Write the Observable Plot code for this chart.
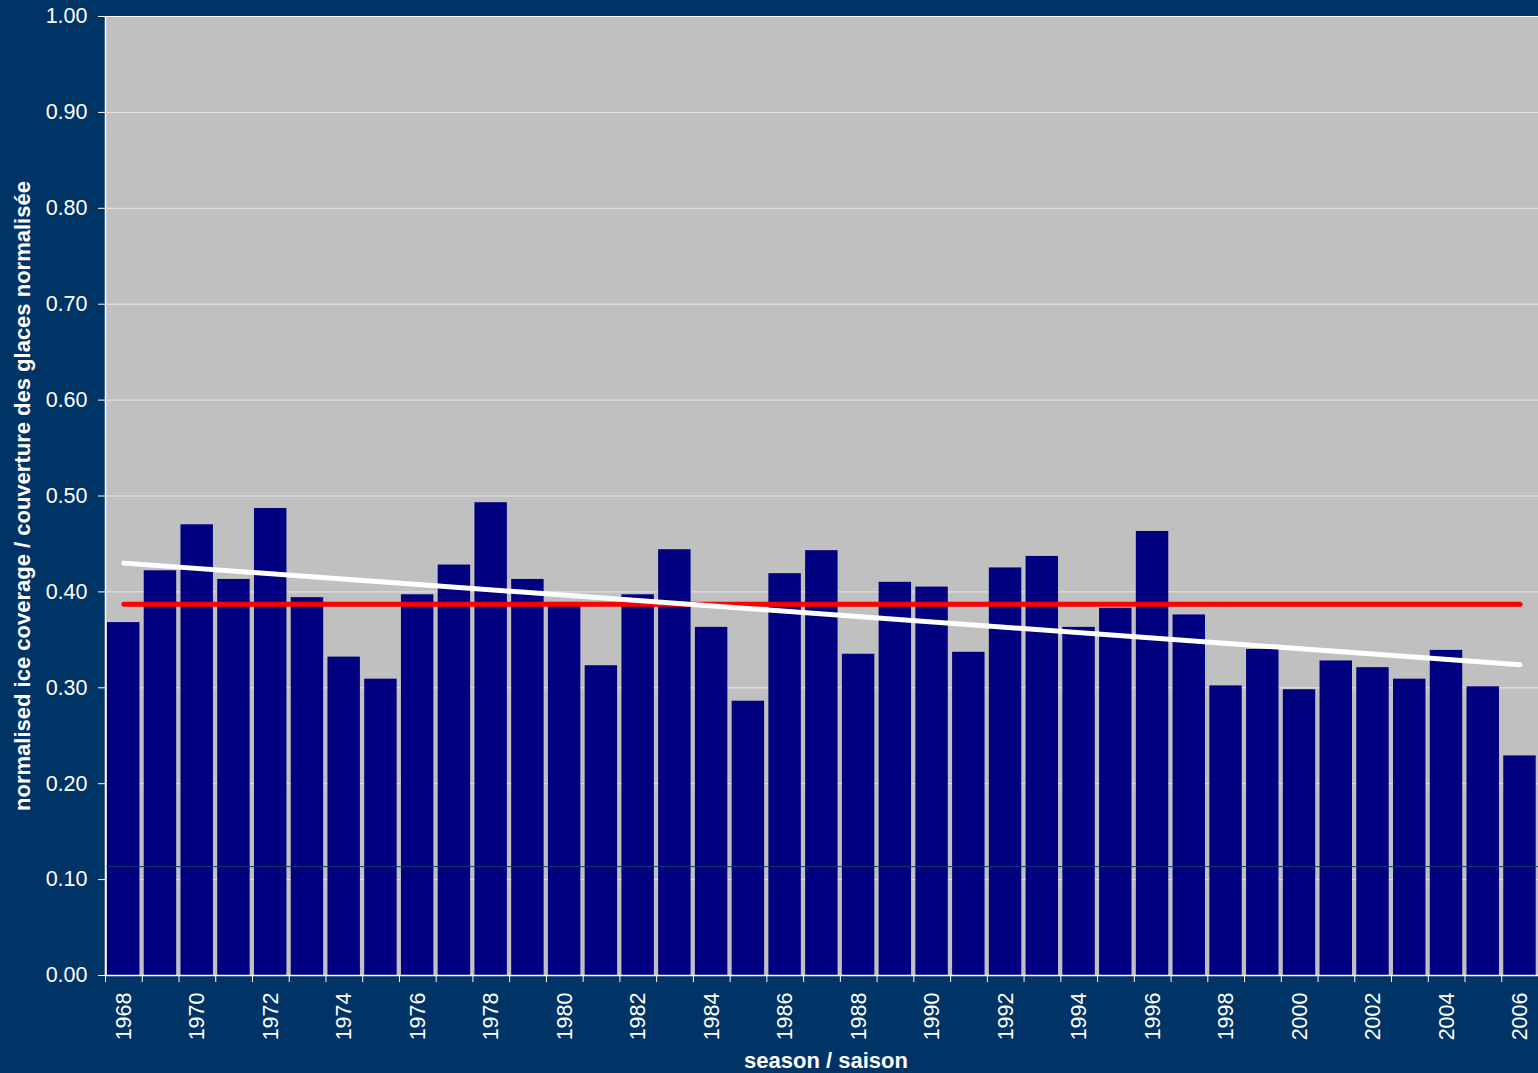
<!DOCTYPE html>
<html><head><meta charset="utf-8">
<script src="https://cdn.jsdelivr.net/npm/d3@7"></script>
<script src="https://cdn.jsdelivr.net/npm/@observablehq/plot@0.6"></script>
<style>
html,body{margin:0;padding:0;background:#003366;}
#chart svg{display:block}
</style></head><body><div id="chart"></div>
<script>
const years = [1968,1969,1970,1971,1972,1973,1974,1975,1976,1977,1978,1979,1980,1981,1982,1983,1984,1985,1986,1987,1988,1989,1990,1991,1992,1993,1994,1995,1996,1997,1998,1999,2000,2001,2002,2003,2004,2005,2006];
const values = [0.368,0.422,0.470,0.413,0.487,0.394,0.332,0.309,0.397,0.428,0.493,0.413,0.389,0.323,0.397,0.444,0.363,0.286,0.419,0.443,0.335,0.410,0.405,0.337,0.425,0.437,0.363,0.383,0.463,0.376,0.302,0.340,0.298,0.328,0.321,0.309,0.339,0.301,0.229];
const meanLevel = 0.387;
const trendStartValue = 0.430;
const trendEndValue = 0.324;
const darkLineLevel = 0.1135;
const yTicks = [0,0.1,0.2,0.3,0.4,0.5,0.6,0.7,0.8,0.9,1.0];
const xLabelYears = years.filter((y, i) => i % 2 === 0);
const yTitle = "normalised ice coverage / couverture des glaces normalisée";
const xTitle = "season / saison";

const data = years.map((year, i) => ({year, value: values[i]}));
const first = years[0], last = years[years.length - 1];
const boundaries = years.map(y => y - 0.5).concat([last + 0.5]);
const meanLine = [{x: first, y: meanLevel}, {x: last, y: meanLevel}];
const trendLine = [{x: first, y: trendStartValue}, {x: last, y: trendEndValue}];

const chart = Plot.plot({
  width: 1538, height: 1073,
  marginLeft: 105, marginRight: 0, marginTop: 16, marginBottom: 98,
  style: {background: "#003366", color: "white", fontFamily: "'Liberation Sans', Arial, sans-serif", fontSize: "21px", overflow: "visible"},
  x: {type: "linear", domain: [first - 0.5, last + 0.5]},
  y: {domain: [0, 1]},
  marks: [
    Plot.frame({fill: "#c0c0c0", stroke: null}),
    Plot.gridY(yTicks, {stroke: "#e6e6e6", strokeOpacity: 1}),
    Plot.ruleY([1], {stroke: "white"}),
    Plot.rectY(data, {x1: d => d.year - 0.5, x2: d => d.year + 0.5, y: "value", fill: "#000080", insetLeft: 2, insetRight: 2.3}),
    Plot.ruleY([darkLineLevel], {stroke: "#004466", strokeWidth: 1}),
    Plot.line(meanLine, {x: "x", y: "y", stroke: "#ff0000", strokeWidth: 5, strokeLinecap: "round"}),
    Plot.line(trendLine, {x: "x", y: "y", stroke: "white", strokeWidth: 5, strokeLinecap: "round"}),
    Plot.axisY(yTicks, {tickFormat: d => d.toFixed(2), tickSize: 7, tickPadding: 11, stroke: "white", fill: "white", fontSize: 21.5, label: null}),
    Plot.ruleX([first - 0.5], {stroke: "white", strokeWidth: 1.5}),
    Plot.ruleY([0], {stroke: "white", strokeWidth: 1.5}),
    Plot.axisX(boundaries, {tickFormat: () => "", tickSize: 7, stroke: "white", label: null}),
    Plot.axisX(xLabelYears, {tickSize: 0, tickRotate: -90, tickPadding: 17, tickFormat: d => String(d), fill: "white", fontSize: 21.5, label: null}),
    Plot.text([yTitle], {frameAnchor: "left", dx: -83, rotate: -90, textAnchor: "middle", fontWeight: "bold", fontSize: 22, fill: "white"}),
    Plot.text([xTitle], {frameAnchor: "bottom", dx: 4, dy: 92, textAnchor: "middle", fontWeight: "bold", fontSize: 22, fill: "white"})
  ]
});
document.getElementById("chart").appendChild(chart);
</script></body></html>
